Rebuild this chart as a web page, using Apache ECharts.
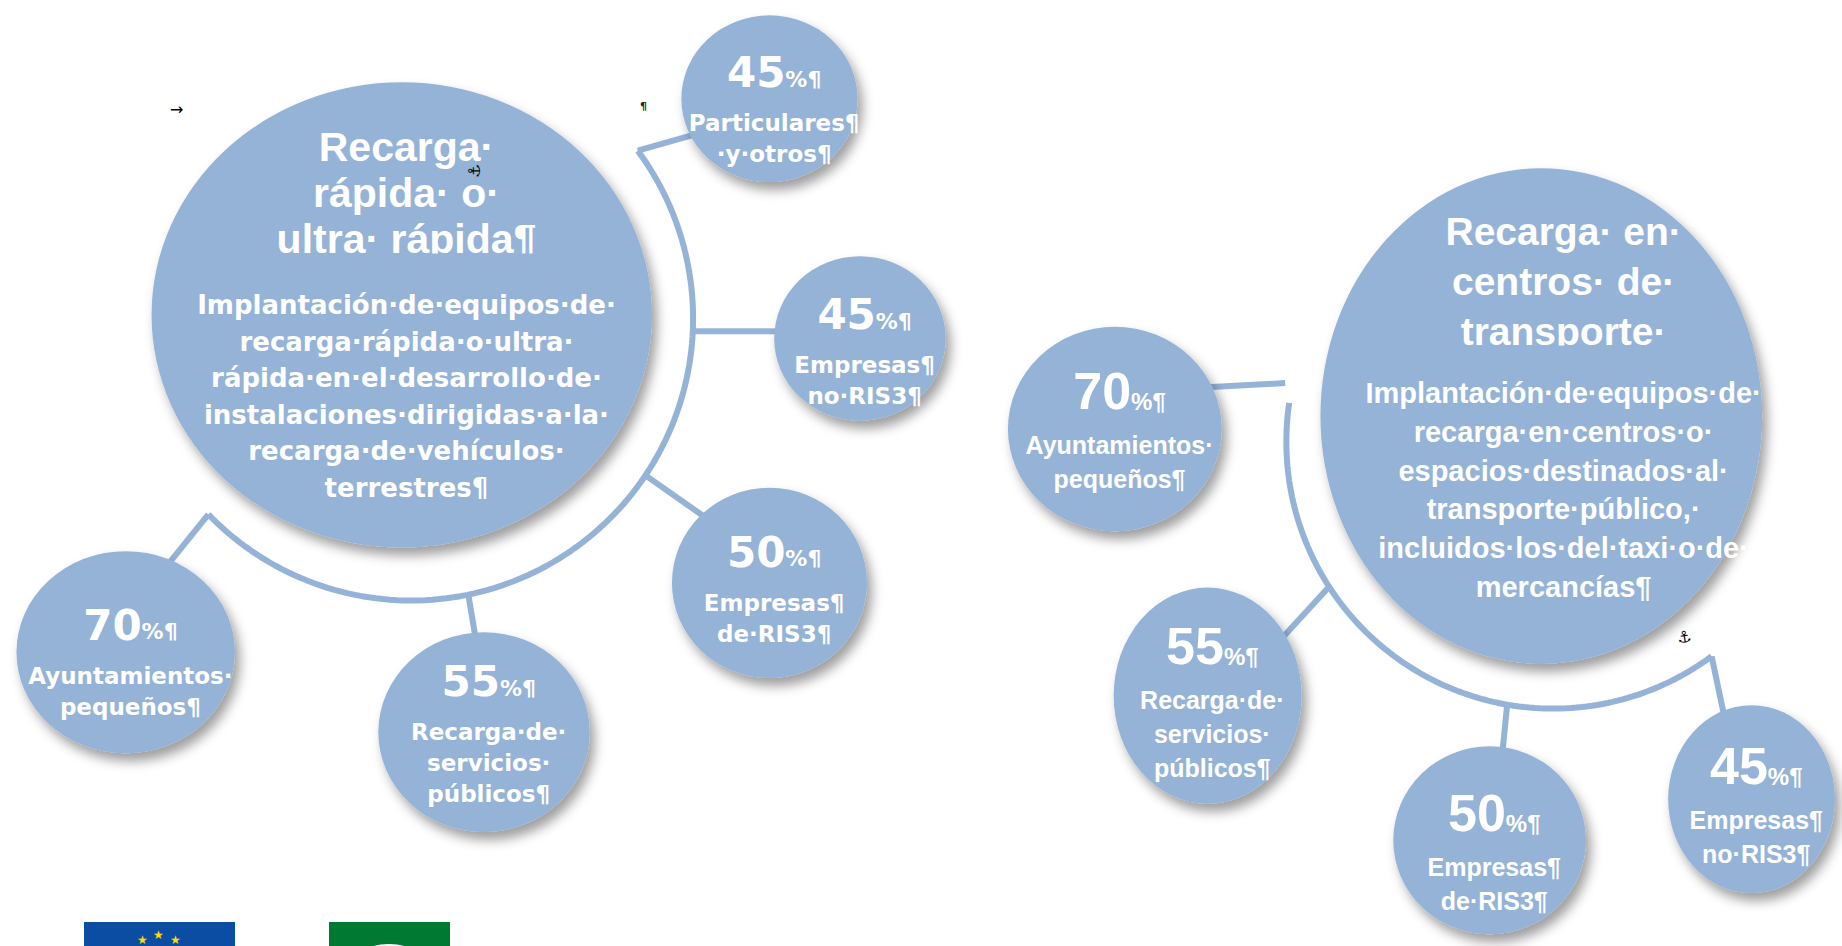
<!DOCTYPE html>
<html>
<head>
<meta charset="utf-8">
<script src="https://cdn.jsdelivr.net/npm/echarts@6/dist/echarts.min.js"></script>
<style>html,body{margin:0;padding:0;background:#fff}#c{width:1842px;height:946px}</style>
</head>
<body>
<div id="c"></div>
<script>
// ---------------- DATA ----------------
const leftTitle = ['Recarga·', 'rápida· o·', 'ultra· rápida¶'];
const leftDescription = ['Implantación·de·equipos·de·', 'recarga·rápida·o·ultra·', 'rápida·en·el·desarrollo·de·', 'instalaciones·dirigidas·a·la·', 'recarga·de·vehículos·', 'terrestres¶'];
const leftCategories = [['Particulares¶', '·y·otros¶'], ['Empresas¶', 'no·RIS3¶'], ['Empresas¶', 'de·RIS3¶'], ['Recarga·de·', 'servicios·', 'públicos¶'], ['Ayuntamientos·', 'pequeños¶']];
const leftValues = [45, 45, 50, 55, 70];

const rightTitle = ['Recarga· en·', 'centros· de·', 'transporte·'];
const rightDescription = ['Implantación·de·equipos·de·', 'recarga·en·centros·o·', 'espacios·destinados·al·', 'transporte·público,·', 'incluidos·los·del·taxi·o·de·', 'mercancías¶'];
const rightCategories = [['Ayuntamientos·', 'pequeños¶'], ['Recarga·de·', 'servicios·', 'públicos¶'], ['Empresas¶', 'de·RIS3¶'], ['Empresas¶', 'no·RIS3¶']];
const rightValues = [70, 55, 50, 45];

// ---------------- LAYOUT (design units on a 1568 x 805 board) ----------------
const BOARD_W = 1568, BOARD_H = 805;
const K = 1842 / BOARD_W;
const FILL = '#95B3D7';

const leftHub = { c: [342, 268], r: [213, 198], titleY: 125, dx: 4,
  arc: { c: [350, 271], r: 240, from: -36.5, to: 136 } };
const rightHub = { c: [1312, 354], r: [188, 211], titleY: 197, dx: 19,
  arc: { c: [1322, 376], r: 227, from: 53.5, to: 188.4 } };

const leftNodes = [
  { c: [655, 84], r: [75, 71], pctY: 62 },
  { c: [732, 288], r: [73, 70], pctY: 268 },
  { c: [655, 496], r: [83, 81], pctY: 470 },
  { c: [412, 623], r: [90, 85], pctY: 580 },
  { c: [107, 555], r: [93, 86], pctY: 532 }
];
const rightNodes = [
  { c: [949, 365], r: [91, 87], pctY: 333 },
  { c: [1028, 592], r: [80, 92], pctY: 550 },
  { c: [1268, 715], r: [82, 80], pctY: 692 },
  { c: [1491, 680], r: [71, 80], pctY: 652 }
];
const leftLinks = [
  { angle: -36.5, to: [600, 112] }, { angle: 2.6, to: [690, 282] }, { angle: 33.8, to: [610, 447] },
  { angle: 78.3, to: [406, 550] }, { angle: 136, to: [140, 484] }
];
const rightLinks = [
  { from: [1000, 331], to: [1094, 326] }, { angle: 147.1, to: [1085, 550] },
  { angle: 99.9, to: [1277, 660] }, { angle: 53.5, to: [1470, 620] }
];

// ---------------- STYLES ----------------
const ARIAL = "'Liberation Sans',Arial,sans-serif";
const VERD = "'DejaVu Sans',Verdana,sans-serif";
const W = '#ffffff';

const leftHubRich = {
  t: { fontFamily: ARIAL, fontWeight: 'bold', fontSize: 41, lineHeight: 46, color: W },
  g: { fontSize: 8, lineHeight: 25, color: W },
  b: { fontFamily: VERD, fontWeight: 'bold', fontSize: 26, lineHeight: 36.5, color: W }
};
const rightHubRich = {
  t: { fontFamily: ARIAL, fontWeight: 'bold', fontSize: 39, lineHeight: 50, color: W },
  g: { fontSize: 8, lineHeight: 17, color: W },
  b: { fontFamily: ARIAL, fontWeight: 'bold', fontSize: 29, lineHeight: 38.8, color: W }
};
const leftNodeRich = {
  n: { fontFamily: VERD, fontWeight: 'bold', fontSize: 42, lineHeight: 70, color: W },
  s: { fontFamily: VERD, fontWeight: 'bold', fontSize: 22, lineHeight: 70, padding: [13, 0, 0, 0], color: W },
  l: { fontFamily: VERD, fontWeight: 'bold', fontSize: 23, lineHeight: 31, color: W }
};
const rightNodeRich = {
  n: { fontFamily: ARIAL, fontWeight: 'bold', fontSize: 52, lineHeight: 73, color: W },
  s: { fontFamily: ARIAL, fontWeight: 'bold', fontSize: 24, lineHeight: 73, padding: [20, 0, 0, 0], color: W },
  l: { fontFamily: ARIAL, fontWeight: 'bold', fontSize: 25, lineHeight: 34, color: W }
};

const ELLIPSE = 'path://M0,50 A50,50 0 1,0 100,50 A50,50 0 1,0 0,50 Z';
const SHADOW = { shadowBlur: 12, shadowColor: 'rgba(0,0,0,0.38)', shadowOffsetX: 5, shadowOffsetY: 8 };

// ---------------- BUILDERS ----------------
function arcPoint(arc, deg) {
  const a = deg * Math.PI / 180;
  return [arc.c[0] + arc.r * Math.cos(a), arc.c[1] + arc.r * Math.sin(a)];
}
function lineSeries(pts) {
  return { type: 'line', data: pts, symbol: 'none', smooth: false, clip: false, z: 1, silent: true,
    lineStyle: { color: FILL, width: 6 }, animation: false };
}
function arcSeries(arc) {
  const pts = [];
  const step = (arc.to - arc.from) / 120;
  for (let i = 0; i <= 120; i++) pts.push(arcPoint(arc, arc.from + step * i));
  return lineSeries(pts);
}
function linkSeries(hub, links) {
  return links.map(l => lineSeries([l.from || arcPoint(hub.arc, l.angle), l.to]));
}
function hubItem(hub, title, desc, rich) {
  const tl = rich.t.lineHeight, gl = rich.g.lineHeight, bl = rich.b.lineHeight;
  const H = title.length * tl + gl + desc.length * bl;
  const top = hub.titleY * K - tl / 2;
  const offY = top + H / 2 - hub.c[1] * K;
  const text = title.map(s => '{t|' + s + '}').join('\n') + '\n{g| }\n' + desc.map(s => '{b|' + s + '}').join('\n');
  return {
    value: hub.c, symbolSize: [hub.r[0] * 2 * K, hub.r[1] * 2 * K],
    label: { show: true, position: 'inside', formatter: text, rich: rich, offset: [hub.dx * K, offY] }
  };
}
function nodeItems(nodes, values, cats, rich) {
  return nodes.map((nd, i) => {
    const nl = rich.n.lineHeight, ll = rich.l.lineHeight;
    const H = nl + cats[i].length * ll;
    const top = nd.pctY * K - nl / 2;
    const offY = top + H / 2 - nd.c[1] * K;
    const text = '{n|' + values[i] + '}{s|%¶}\n' + cats[i].map(s => '{l|' + s + '}').join('\n');
    return {
      value: nd.c, symbolSize: [nd.r[0] * 2 * K, nd.r[1] * 2 * K],
      label: { show: true, position: 'inside', formatter: text, rich: rich, offset: [4 * K, offY] }
    };
  });
}
function circleSeries(items) {
  return { type: 'scatter', data: items, symbol: ELLIPSE, z: 3, silent: true, animation: false,
    itemStyle: Object.assign({ color: FILL, opacity: 1 }, SHADOW) };
}

// title clipping bands (text box clipped under the last title line)
function clipBand(hub, rich, title, halfW) {
  const tl = rich.t.lineHeight;
  const lastCenter = hub.titleY * K + (title.length - 1) * tl;
  const y = lastCenter + rich.t.fontSize * 0.36;
  return { type: 'rect', z: 100, silent: true,
    shape: { x: (hub.c[0] + hub.dx) * K - halfW, y: y, width: halfW * 2, height: 13 },
    style: { fill: FILL } };
}

const series = [
  arcSeries(leftHub.arc), arcSeries(rightHub.arc),
  ...linkSeries(leftHub, leftLinks), ...linkSeries(rightHub, rightLinks),
  circleSeries([hubItem(leftHub, leftTitle, leftDescription, leftHubRich)]),
  circleSeries([hubItem(rightHub, rightTitle, rightDescription, rightHubRich)]),
  circleSeries(nodeItems(leftNodes, leftValues, leftCategories, leftNodeRich)),
  circleSeries(nodeItems(rightNodes, rightValues, rightCategories, rightNodeRich))
];

const chart = echarts.init(document.getElementById('c'), null, { renderer: 'svg' });
chart.setOption({
  backgroundColor: '#ffffff',
  animation: false,
  grid: { left: 0, right: 0, top: 0, bottom: 0 },
  xAxis: { type: 'value', min: 0, max: BOARD_W, show: false },
  yAxis: { type: 'value', min: 0, max: BOARD_H, inverse: true, show: false },
  series: series,
  graphic: [
    clipBand(leftHub, leftHubRich, leftTitle, 170),
    clipBand(rightHub, rightHubRich, rightTitle, 150),
    { type: 'text', z: 100, left: 170, top: 101, style: { text: '→', fontSize: 16, fill: '#000', fontFamily: VERD } },
    { type: 'text', z: 100, left: 640, top: 101, style: { text: '¶', fontSize: 11, fill: '#222', fontWeight: 'bold', fontFamily: VERD } },
    { type: 'text', z: 100, left: 466, top: 164, style: { text: '⚓', fontSize: 16, fill: '#000', fontFamily: VERD }, rotation: Math.PI / 2 },
    { type: 'text', z: 100, left: 1676, top: 628, style: { text: '⚓', fontSize: 16, fill: '#000', fontFamily: VERD }, rotation: 0.15 },
    // EU flag (cropped)
    { type: 'rect', shape: { x: 84, y: 922, width: 151, height: 30 }, style: { fill: '#0B4DA2' } },
    { type: 'text', left: 137, top: 934, style: { text: '★', fontSize: 12, fill: '#FFDD00', fontFamily: VERD } },
    { type: 'text', left: 153, top: 929, style: { text: '★', fontSize: 12, fill: '#FFDD00', fontFamily: VERD } },
    { type: 'text', left: 170, top: 934, style: { text: '★', fontSize: 12, fill: '#FFDD00', fontFamily: VERD } },
    // Andalucía flag (cropped)
    { type: 'rect', shape: { x: 329, y: 922, width: 121, height: 30 }, style: { fill: '#007A33' } },
    { type: 'ellipse', shape: { cx: 389, cy: 958, rx: 30, ry: 14 }, style: { fill: '#ffffff' } }
  ]
});
</script>
</body>
</html>
